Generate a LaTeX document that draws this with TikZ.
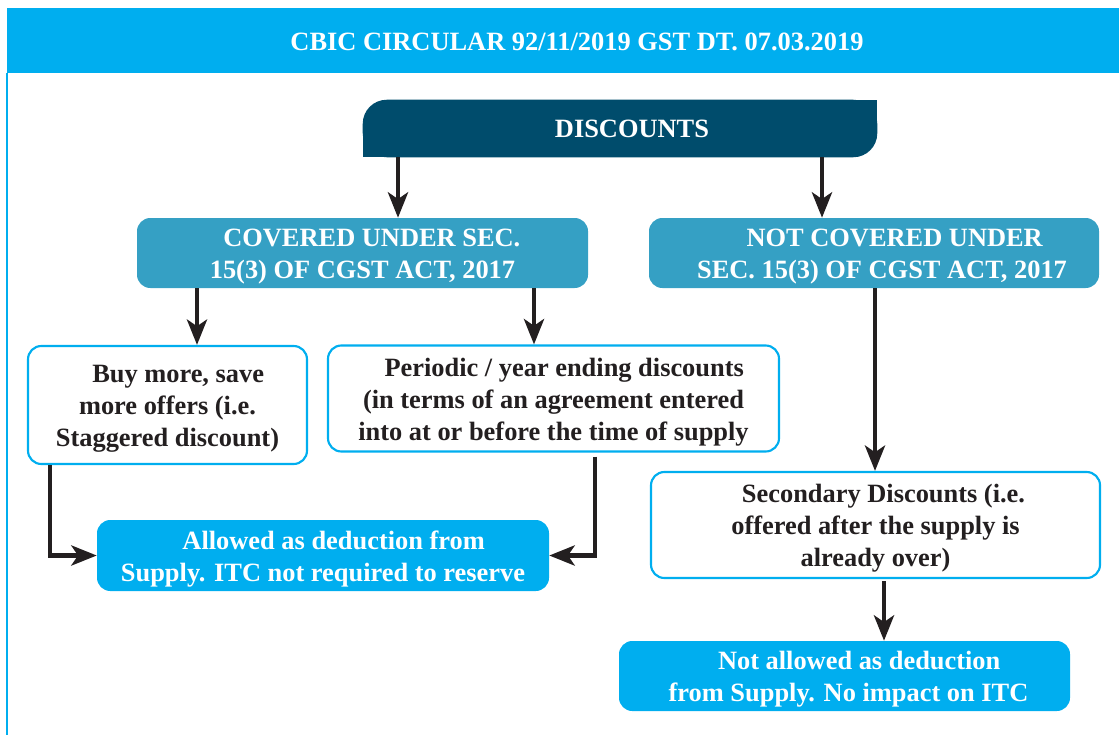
\documentclass[tikz,border=0pt]{standalone}
\usepackage{fontspec}
\setmainfont{Liberation Serif}
\usetikzlibrary{arrows.meta,backgrounds}
\definecolor{cyanb}{HTML}{00AEEF}
\definecolor{darkb}{HTML}{004C6C}
\definecolor{secb}{HTML}{35A0C4}
\definecolor{ink}{HTML}{231F20}
\newcommand\tpstrut{\rule{0pt}{19pt}}
\tikzset{
  every node/.style={inner sep=0pt, font=\fontsize{19.8}{24}\selectfont\bfseries, align=center},
  secbox/.style={fill=secb, text=white, rounded corners=10pt},
  wbox/.style={draw=cyanb, line width=1.6pt, fill=white, text=ink, rounded corners=10pt},
  cbox/.style={fill=cyanb, text=white, rounded corners=10pt},
  arr/.style={draw=ink, line width=3.6pt, -{Stealth[length=19pt,width=15pt,inset=5pt]}},
}
\begin{document}
\begin{tikzpicture}[x=0.75pt,y=-0.75pt]
\useasboundingbox (0,0) rectangle (1119,735);
% header and frame
\fill[cyanb] (7,8) rectangle (1119,73);
\node[text=white] (hdr) at (577,42) {CBIC CIRCULAR 92/11/2019 GST DT. 07.03.2019};
\draw[cyanb, line width=1.4pt] (7,73) -- (7,735);
% x positions of connectors
\coordinate (xa) at (398,0);
\coordinate (xb) at (822,0);
\coordinate (xc) at (197,0);
\coordinate (xd) at (534,0);
\coordinate (xe) at (875,0);
\coordinate (xf) at (50,0);
\coordinate (xg) at (595,0);
\coordinate (xh) at (884,0);
% discounts
\node[text=white, minimum width=385.5pt, minimum height=42.75pt] (disc) at (620,128.5) {\hspace*{18pt}DISCOUNTS};
\begin{scope}[on background layer]
\fill[darkb, rounded corners=18pt] (disc.south west) rectangle (disc.north east);
\fill[darkb] (disc.north east) rectangle ++(-28,28);
\fill[darkb] (disc.south west) rectangle ++(28,-28);
\end{scope}
% level 2
\node[secbox, minimum width=338.25pt, minimum height=52.5pt] (cov) at (362.5,253)
  {\tpstrut\hspace*{14pt}COVERED UNDER SEC.\\15(3) OF CGST ACT, 2017};
\node[secbox, minimum width=337.5pt, minimum height=52.5pt] (ncov) at (874,253)
  {\tpstrut\hspace*{31pt}NOT COVERED UNDER\\\hspace*{12pt}SEC. 15(3) OF CGST ACT, 2017};
% level 3
\node[wbox, minimum width=209.25pt, minimum height=88.5pt] (buy) at (167.5,405)
  {\tpstrut\hspace*{16pt}Buy more, save\\more offers (i.e.\\Staggered discount)};
\node[wbox, minimum width=338.25pt, minimum height=79.5pt] (per) at (553.5,398.5)
  {\tpstrut\hspace*{16pt}Periodic / year ending discounts\\(in terms of an agreement entered\\into at or before the time of supply};
\node[cbox, minimum width=339pt, minimum height=53.25pt] (allow) at (323,555.5)
  {\tpstrut\hspace*{16pt}Allowed as deduction from\\Supply. ITC not required to reserve};
\node[wbox, minimum width=336.75pt, minimum height=79.5pt] (sec2) at (875.5,525)
  {\tpstrut\hspace*{12pt}Secondary Discounts (i.e.\\offered after the supply is\\already over)};
\node[cbox, minimum width=338.25pt, minimum height=52.5pt] (nall) at (844.5,676)
  {\tpstrut\hspace*{22pt}Not allowed as deduction\\\hspace*{6pt}from Supply. No impact on ITC};
% connectors
\draw[arr] (disc.south -| xa) -- (cov.north -| xa);
\draw[arr] (disc.south -| xb) -- (ncov.north -| xb);
\draw[arr] (cov.south -| xc) -- (buy.north -| xc);
\draw[arr] (cov.south -| xd) -- (per.north -| xd);
\draw[arr] (ncov.south -| xe) -- (sec2.north -| xe);
\draw[arr] (buy.south -| xf) |- (allow.west);
\draw[arr, shorten <=3pt] (per.south -| xg) |- (allow.east);
\draw[arr, shorten <=1.5pt] (sec2.south -| xh) -- (nall.north -| xh);
\end{tikzpicture}
\end{document}
